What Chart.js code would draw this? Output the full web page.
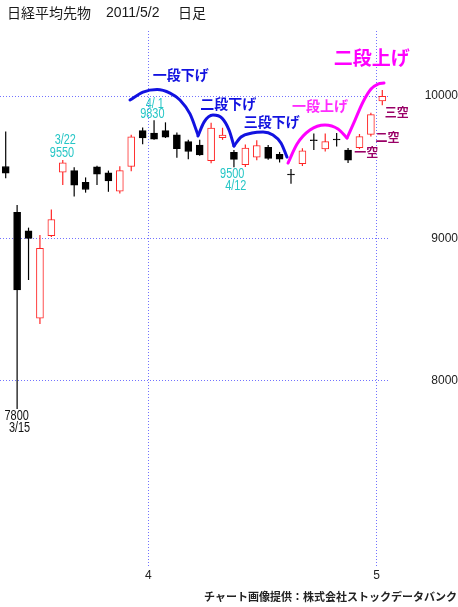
<!DOCTYPE html>
<html><head><meta charset="utf-8">
<script src="https://cdn.jsdelivr.net/npm/chart.js@4.4.1/dist/chart.umd.min.js"></script>
<style>html,body{margin:0;padding:0;background:#fff;overflow:hidden}</style>
</head><body>
<canvas id="c" width="458" height="607" style="display:block"></canvas>
<script>
// ---- data ----
const dates  = ['3/14','3/15','3/16','3/17','3/18','3/22','3/23','3/24','3/25','3/28','3/29','3/30','3/31','4/1','4/4','4/5','4/6','4/7','4/8','4/11','4/12','4/13','4/14','4/15','4/18','4/19','4/20','4/21','4/22','4/25','4/26','4/27','4/28','5/2'];
const opens  = [9505,9183,9053,8438,9018,9464,9476,9393,9503,9461,9332,9505,9757,9740,9757,9728,9679,9655,9545,9708,9605,9517,9570,9640,9590,9452,9525,9692,9628,9697,9620,9637,9730,9965];
const highs  = [9750,9234,9075,9023,9202,9550,9500,9428,9510,9476,9506,9728,9779,9830,9815,9743,9693,9693,9812,9777,9620,9660,9690,9655,9607,9487,9633,9737,9737,9740,9634,9733,9882,10043];
const lows   = [9422,7800,8707,8398,9010,9375,9293,9321,9374,9327,9315,9471,9661,9692,9705,9567,9555,9580,9528,9692,9500,9502,9548,9552,9533,9383,9508,9620,9611,9645,9530,9627,9716,9936];
const closes = [9458,8637,9000,8930,9132,9531,9374,9343,9450,9403,9476,9714,9705,9697,9710,9630,9610,9586,9775,9726,9555,9635,9652,9562,9556,9446,9614,9686,9680,9691,9550,9715,9869,9997];
const yTicks = [8000, 9000, 10000];
const monthLabels = ['4', '5'];

// wave curves drawn on the chart (x = trading-day index, y = price)
const waveDown1 = [[10.89,9972],[12.03,10028],[13.26,10046],[14.40,10021],[15.27,9972],[16.15,9874],[16.85,9726]];
const waveDown2 = [[16.85,9719],[17.38,9817],[18.16,9866],[18.95,9845],[19.57,9761],[20.00,9649]];
const waveDown3 = [[20.00,9649],[20.62,9712],[21.58,9740],[22.55,9747],[23.42,9726],[24.12,9670],[24.65,9571]];
const waveUp1   = [[24.74,9529],[25.53,9663],[26.66,9761],[27.98,9796],[29.12,9768],[29.91,9705]];
const waveUp2   = [[29.91,9705],[30.61,9831],[31.31,9958],[32.01,10049],[32.62,10084],[33.15,10091]];

// text notes placed in data coordinates
const BLUE = '#1212e0', MAG = '#ff00ff', MAG2 = '#ff2cff', KU = '#990066', CYAN = '#26c6c6';
const JP = '"Noto Sans CJK JP"';
const NUM = '"Liberation Sans",Arial,sans-serif';
const notes = [
  {t:'一段下げ', x:15.34, y:10151, c:BLUE, f:'bold 14px '+JP},
  {t:'二段下げ', x:19.51, y:9949,  c:BLUE, f:'bold 14px '+JP},
  {t:'三段下げ', x:23.31, y:9823,  c:BLUE, f:'bold 14px '+JP},
  {t:'一段上げ', x:27.54, y:9933,  c:MAG2, f:'bold 14px '+JP},
  {t:'二段上げ', x:32.07, y:10271, c:MAG,  f:'bold 19px '+JP},
  {t:'三空',     x:34.26, y:9888,  c:KU,   f:'bold 12px '+JP},
  {t:'二空',     x:33.46, y:9708,  c:KU,   f:'bold 12px '+JP},
  {t:'一空',     x:31.59, y:9603,  c:KU,   f:'bold 12px '+JP},
  {t:'4/ 1',     x:13.06, y:9946,  c:CYAN, f:'14px '+NUM, sx:0.78},
  {t:'9830',     x:12.85, y:9874,  c:CYAN, f:'14px '+NUM, sx:0.78},
  {t:'3/22',     x:5.22,  y:9687,  c:CYAN, f:'14px '+NUM, sx:0.78},
  {t:'9550',     x:4.93,  y:9597,  c:CYAN, f:'14px '+NUM, sx:0.78},
  {t:'9500',     x:19.85, y:9453,  c:CYAN, f:'14px '+NUM, sx:0.78},
  {t:'4/12',     x:20.16, y:9369,  c:CYAN, f:'14px '+NUM, sx:0.78},
  {t:'7800',     x:0.96,  y:7750,  c:'#111', f:'14px '+NUM, sx:0.78},
  {t:'3/15',     x:1.21,  y:7665,  c:'#111', f:'14px '+NUM, sx:0.78}
];
const titleParts = [['日経平均先物', 7], ['2011/5/2', 106], ['日足', 178]];
const footer = 'チャート画像提供：株式会社ストックデータバンク';

// ---- build ----
const RED = '#ff2626', BLACK = '#000000';
const idx = dates.map((d, i) => i);
const up = idx.map(i => closes[i] >= opens[i]);
const monthTicks = [];
for (let i = 1; i < dates.length; i++) {
  if (dates[i].split('/')[0] !== dates[i-1].split('/')[0]) monthTicks.push(i - 0.5);
}
const toXY = arr => arr.map(p => ({x: p[0], y: p[1]}));
const wave = (arr, color) => ({
  type: 'line', data: toXY(arr), borderColor: color, borderWidth: 3,
  pointRadius: 0, fill: false, cubicInterpolationMode: 'monotone',
  borderCapStyle: 'round', order: 0
});

const notesPlugin = {
  id: 'notes',
  afterDraw(chart) {
    const {ctx, scales: {x, y}} = chart;
    ctx.save();
    ctx.textAlign = 'center';
    ctx.textBaseline = 'middle';
    notes.forEach(n => {
      const px = x.getPixelForValue(n.x), py = y.getPixelForValue(n.y);
      const sx = n.sx || 1;
      ctx.save();
      ctx.font = n.f; ctx.fillStyle = n.c;
      ctx.translate(px, py); ctx.scale(sx, 1);
      ctx.fillText(n.t, 0, 0);
      ctx.restore();
    });
    ctx.textAlign = 'left';
    ctx.fillStyle = '#1a1a1a';
    titleParts.forEach(([t, px]) => {
      ctx.font = (/^[0-9\/]+$/.test(t) ? '14px "Liberation Sans",' : '14px ') + JP;
      ctx.fillText(t, px, 13);
    });
    ctx.font = 'bold 11px ' + JP;
    ctx.fillStyle = '#222';
    ctx.fillText(footer, 204, 597);
    ctx.restore();
  }
};

new Chart(document.getElementById('c'), {
  type: 'bar',
  data: {
    datasets: [
      wave(waveDown1, BLUE), wave(waveDown2, BLUE), wave(waveDown3, BLUE),
      wave(waveUp1, MAG), wave(waveUp2, MAG),
      {
        data: idx.map(i => ({x: i, y: [opens[i], closes[i]]})),
        backgroundColor: idx.map(i => up[i] ? '#ffffff' : BLACK),
        borderColor: idx.map(i => up[i] ? RED : BLACK),
        borderWidth: 1, borderSkipped: false, barThickness: 7,
        grouped: false, order: 1
      },
      {
        data: idx.map(i => ({x: i, y: [lows[i], highs[i]]})),
        backgroundColor: idx.map(i => up[i] ? RED : BLACK),
        borderWidth: 0, barThickness: 1.2, inflateAmount: 0, grouped: false, order: 2
      }
    ]
  },
  options: {
    responsive: false, animation: false, events: [],
    devicePixelRatio: 1,
    layout: {padding: {top: 31, left: 0, right: 0, bottom: 0}},
    plugins: {legend: {display: false}, tooltip: {enabled: false}, title: {display: false}},
    scales: {
      x: {
        type: 'linear', min: -0.5, max: 33.5, offset: false,
        afterBuildTicks: s => { s.ticks = monthTicks.map(v => ({value: v})); },
        afterFit: s => { s.height = 39; s.paddingLeft = 0; s.paddingRight = 0; },
        ticks: {callback: (v, i) => monthLabels[i], autoSkip: false, maxRotation: 0,
                padding: 0, color: '#222', font: {family: NUM, size: 12}},
        grid: {color: '#7272ff', lineWidth: 1, drawTicks: false, offset: false},
        border: {display: false, dash: [1, 2]}
      },
      y: {
        position: 'right', min: 6683, max: 10457,
        afterBuildTicks: s => { s.ticks = yTicks.map(v => ({value: v})); },
        afterFit: s => { s.width = 70; s.paddingTop = 0; s.paddingBottom = 0; },
        ticks: {callback: v => String(v), crossAlign: 'far', padding: 36,
                color: '#222', font: {family: NUM, size: 12}},
        grid: {color: '#7272ff', lineWidth: 1, drawTicks: false},
        border: {display: false, dash: [1, 2]}
      }
    }
  },
  plugins: [notesPlugin]
});
</script>
</body></html>
